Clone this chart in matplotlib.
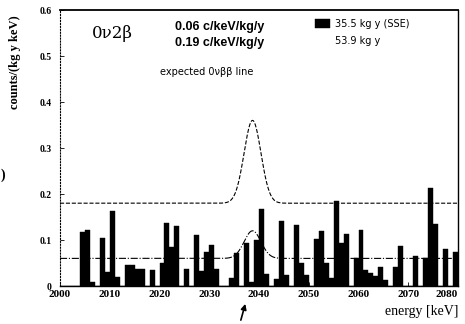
import matplotlib.pyplot as plt
import numpy as np
from matplotlib.patches import Patch

# 1 keV bins, counts/(kg y keV)
bin_start = 2000
counts = [0, 0, 0, 0, 0.118, 0.122, 0.008, 0, 0.104, 0.031,
          0.162, 0.019, 0, 0.046, 0.045, 0.038, 0.038, 0, 0.035, 0,
          0.049, 0.136, 0.085, 0.130, 0, 0.036, 0, 0.111, 0.033, 0.073,
          0.089, 0.036, 0, 0, 0.017, 0.071, 0, 0.093, 0.009, 0.100,
          0.167, 0.027, 0, 0.015, 0.142, 0.024, 0, 0.133, 0.049, 0.024,
          0, 0.102, 0.120, 0.049, 0.018, 0.184, 0.093, 0.113, 0, 0.060,
          0.121, 0.035, 0.028, 0.022, 0.042, 0.012, 0, 0.041, 0.087, 0,
          0, 0.065, 0, 0.060, 0.212, 0.135, 0, 0.080, 0, 0.074]
edges = np.arange(bin_start, bin_start + len(counts))

# expected 0vbb line on top of the two background levels
bkg_levels = [0.06, 0.18]
peak_energy = 2038.7
peak_fwhm = 4.0
line_styles = ['-.', '--']

fig = plt.figure(figsize=(4.65, 3.24), dpi=100)
ax = fig.add_axes([60/465, 38/324, 398/465, 276/324])

bars = ax.bar(edges, counts, width=1, align='edge', color='black',
              edgecolor='black', linewidth=0.3)

e = np.linspace(2000, 2080, 800)
sigma = peak_fwhm / 2.355
for b, ls in zip(bkg_levels, line_styles):
    ax.plot(e, b + b * np.exp(-0.5 * ((e - peak_energy) / sigma) ** 2),
            ls=ls, color='black', lw=0.8)

ax.set_xlim(2000, 2080)
ax.set_ylim(0, 0.6)
ax.set_xticks(np.arange(2000, 2081, 10))
ax.set_yticks([0, 0.1, 0.2, 0.3, 0.4, 0.5, 0.6])
ax.set_yticklabels(['0', '0.1', '0.2', '0.3', '0.4', '0.5', '0.6'])
ax.tick_params(direction='in', length=3, width=0.6, labelsize=7)
ax.tick_params(axis='x', pad=3, labelsize=8)
ax.tick_params(axis='y', pad=6)
for t in ax.get_xticklabels() + ax.get_yticklabels():
    t.set_family('Liberation Serif')
    t.set_fontweight('bold')
ax.get_xticklabels()[-1].set_ha('right')

ax.spines['top'].set_linewidth(1.3)
ax.spines['right'].set_linewidth(1.0)
ax.spines['bottom'].set_linewidth(1.0)
ax.spines['left'].set_linestyle(':')
ax.spines['left'].set_linewidth(0.8)

ax.text(2010.5, 0.55, '0ν2β', family='DejaVu Serif', fontsize=12,
        ha='center', va='center')
ax.text(2023.1, 0.564, '0.06 c/keV/kg/y', family='Liberation Sans',
        fontweight='bold', fontsize=9, va='center')
ax.text(2023.1, 0.528, '0.19 c/keV/kg/y', family='Liberation Sans',
        fontweight='bold', fontsize=9, va='center')
ax.text(2020.1, 0.466, 'expected 0νββ line', fontsize=7, va='center')

ax.legend([bars, Patch(facecolor='none', edgecolor='none')],
          ['35.5 kg y (SSE)', '53.9 kg y'], loc='upper right',
          bbox_to_anchor=(0.9, 1.0), frameon=False, fontsize=7,
          handlelength=1.6, handleheight=1.1, handletextpad=0.5,
          labelspacing=0.7)

ax.annotate('', xy=(2037.4, -0.033), xytext=(2036.2, -0.08),
            annotation_clip=False,
            arrowprops=dict(arrowstyle='-|>', color='black', lw=1.2,
                            mutation_scale=8))

fig.text(15/465, 1 - 62/324, 'counts/(kg y keV)', rotation=90,
         family='Liberation Serif', fontweight='bold', fontsize=9,
         ha='center', va='center')
fig.text(458/465, 1 - 312/324, 'energy [keV]', family='Liberation Serif',
         fontsize=10, ha='right', va='center')
fig.text(1/465, 1 - 175/324, ')', family='Liberation Serif', fontsize=10,
         fontweight='bold', va='center')

fig.savefig('out.png', dpi=100)
